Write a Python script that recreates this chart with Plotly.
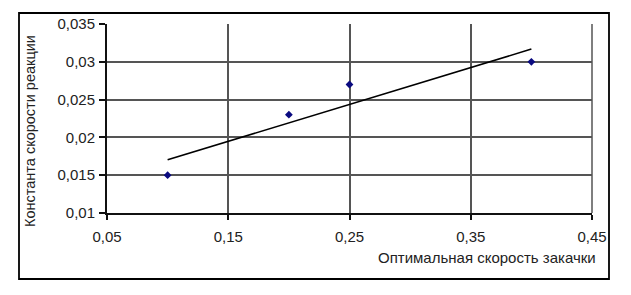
import numpy as np
import plotly.graph_objects as go

x_vals = [0.10, 0.20, 0.25, 0.40]
y_vals = [0.015, 0.023, 0.027, 0.030]

x_ticks = [0.05, 0.15, 0.25, 0.35, 0.45]
x_tick_labels = ["0,05", "0,15", "0,25", "0,35", "0,45"]
y_ticks = [0.01, 0.015, 0.02, 0.025, 0.03, 0.035]
y_tick_labels = ["0,01", "0,015", "0,02", "0,025", "0,03", "0,035"]

x_title = "Оптимальная скорость закачки"
y_title = "Константа скорости реакции"

# linear trend line (least squares) over the data range
k, b = np.polyfit(x_vals, y_vals, 1)
trend_x = [min(x_vals), max(x_vals)]
trend_y = [k * v + b for v in trend_x]

W, H = 631, 295
L, R, T, B = 107, 592, 24, 213
pw, ph = R - L, B - T

def px(p):
    return (p - L) / pw

def py(q):
    return (B - q) / ph

fig = go.Figure()
fig.add_trace(go.Scatter(x=trend_x, y=trend_y, mode="lines",
                         line=dict(color="black", width=1.6),
                         hoverinfo="skip", showlegend=False))
fig.add_trace(go.Scatter(x=x_vals, y=y_vals, mode="markers",
                         marker=dict(symbol="diamond", size=6, color="#0a0a80"),
                         showlegend=False))

fam = "Liberation Sans, Arial, sans-serif"
font = dict(family=fam, size=15, color="#222")

fig.update_layout(
    width=W, height=H,
    margin=dict(l=L, r=W - R, t=T, b=H - B),
    paper_bgcolor="white", plot_bgcolor="white",
    font=font,
    xaxis=dict(range=[0.05, 0.45], tickvals=x_ticks, ticktext=x_tick_labels,
               showgrid=True, gridcolor="#555", gridwidth=1.5,
               showline=True, linecolor="#111", linewidth=2,
               ticks="outside", ticklen=5, tickcolor="#111", tickwidth=1.5,
               ticklabelstandoff=4,
               zeroline=False, fixedrange=True),
    yaxis=dict(range=[0.01, 0.035], tickvals=y_ticks, ticktext=y_tick_labels,
               showgrid=True, gridcolor="#555", gridwidth=1.5,
               showline=True, linecolor="#111", linewidth=2,
               ticks="outside", ticklen=6, tickcolor="#111", tickwidth=1.5,
               ticklabelstandoff=1,
               zeroline=False, fixedrange=True),
    shapes=[
        dict(type="rect", xref="paper", yref="paper",
             x0=px(19), x1=px(609), y0=py(279), y1=py(13),
             line=dict(color="black", width=1.8), layer="below"),
        dict(type="line", xref="paper", yref="paper",
             x0=1, x1=1, y0=0, y1=1, line=dict(color="#555", width=1.5)),
    ],
    annotations=[
        dict(text=x_title, xref="paper", yref="paper", x=px(598), y=py(257),
             xanchor="right", yanchor="middle", showarrow=False,
             font=dict(family=fam, size=15, color="#222")),
        dict(text=y_title, xref="paper", yref="paper", x=px(30), y=py(131),
             xanchor="center", yanchor="middle", textangle=-90, showarrow=False,
             font=dict(family=fam, size=14.5, color="#222")),
    ],
)

fig.write_html("out.html", config={"displayModeBar": False},
               post_script="document.body.style.margin='0';document.body.style.padding='0';")
